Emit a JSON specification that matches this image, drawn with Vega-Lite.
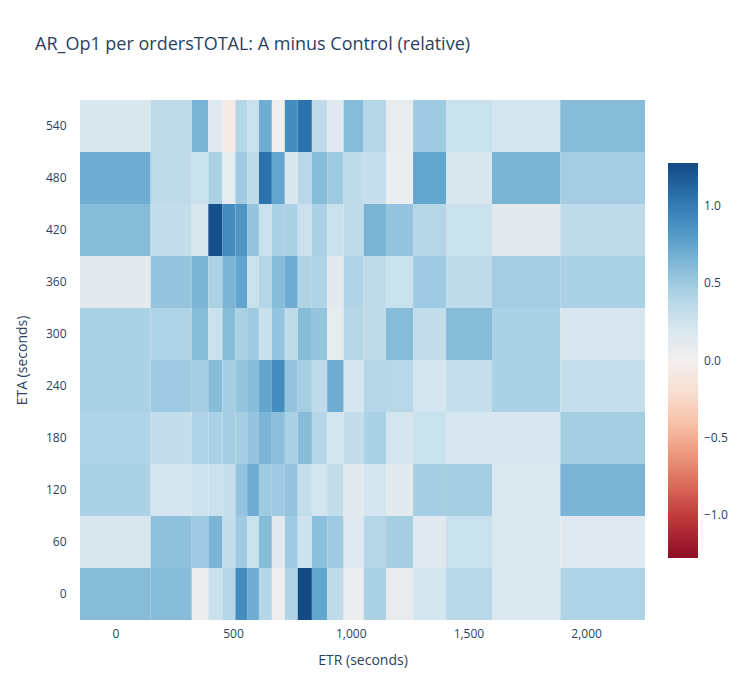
{
  "$schema": "https://vega.github.io/schema/vega-lite/v6.json",
  "autosize": "none",
  "width": 565,
  "height": 520,
  "padding": {"left": 80, "top": 100, "right": 105, "bottom": 80},
  "background": "white",
  "title": {
    "text": "AR_Op1 per ordersTOTAL: A minus Control (relative)",
    "anchor": "start",
    "frame": "group",
    "dx": -45,
    "offset": 46,
    "fontSize": 18,
    "fontWeight": "normal",
    "font": "Open Sans",
    "color": "#2a3f5f"
  },
  "config": {
    "view": {"stroke": null},
    "font": "Open Sans"
  },
  "data": {
    "values": [
      {"eta": 540, "v": [0.2, 0.35, 0.65, 0.15, -0.05, 0.4, 0.3, 0.7, 0.02, 0.9, 1.05, 0.35, 0.15, 0.6, 0.4, 0.08, 0.5, 0.3, 0.25, 0.6]},
      {"eta": 480, "v": [0.7, 0.35, 0.3, 0.45, 0.1, 0.5, 0.35, 1.05, 0.75, 0.2, 0.38, 0.6, 0.5, 0.35, 0.32, 0.05, 0.75, 0.2, 0.65, 0.48]},
      {"eta": 420, "v": [0.6, 0.33, 0.2, 1.25, 0.9, 0.85, 0.55, 0.3, 0.45, 0.45, 0.3, 0.45, 0.3, 0.35, 0.65, 0.55, 0.4, 0.3, 0.12, 0.35]},
      {"eta": 360, "v": [0.12, 0.55, 0.65, 0.45, 0.65, 0.75, 0.3, 0.4, 0.6, 0.7, 0.42, 0.42, 0.12, 0.42, 0.35, 0.3, 0.5, 0.35, 0.48, 0.45]},
      {"eta": 300, "v": [0.45, 0.42, 0.6, 0.3, 0.6, 0.45, 0.5, 0.3, 0.55, 0.35, 0.6, 0.55, 0.1, 0.4, 0.35, 0.6, 0.33, 0.6, 0.45, 0.22]},
      {"eta": 240, "v": [0.45, 0.5, 0.47, 0.6, 0.47, 0.55, 0.6, 0.75, 0.9, 0.55, 0.47, 0.35, 0.7, 0.25, 0.4, 0.38, 0.25, 0.32, 0.45, 0.32]},
      {"eta": 180, "v": [0.42, 0.33, 0.42, 0.45, 0.47, 0.47, 0.55, 0.65, 0.58, 0.45, 0.6, 0.4, 0.25, 0.33, 0.45, 0.25, 0.3, 0.22, 0.22, 0.47]},
      {"eta": 120, "v": [0.45, 0.25, 0.28, 0.3, 0.32, 0.55, 0.7, 0.5, 0.5, 0.55, 0.33, 0.25, 0.33, 0.12, 0.25, 0.12, 0.47, 0.47, 0.18, 0.65]},
      {"eta": 60, "v": [0.2, 0.57, 0.5, 0.65, 0.33, 0.5, 0.3, 0.6, 0.12, 0.5, 0.28, 0.58, 0.5, 0.15, 0.4, 0.47, 0.15, 0.3, 0.18, 0.15]},
      {"eta": 0, "v": [0.6, 0.6, 0.05, 0.3, 0.4, 0.9, 0.7, 0.4, 0.03, 0.42, 1.28, 0.75, 0.35, 0.05, 0.45, 0.07, 0.25, 0.38, 0.18, 0.42]}
    ]
  },
  "transform": [
    {"lookup": "eta", "from": {"data": {"values": [
      {"eta": 0}, {"eta": 60}, {"eta": 120}, {"eta": 180}, {"eta": 240},
      {"eta": 300}, {"eta": 360}, {"eta": 420}, {"eta": 480}, {"eta": 540}
    ]}, "key": "eta"}},
    {"calculate": "[-150,150,325,395,455,510,560,610,665,720,775,835,900,970,1055,1150,1265,1405,1600,1890]", "as": "x0"},
    {"calculate": "[150,325,395,455,510,560,610,665,720,775,835,900,970,1055,1150,1265,1405,1600,1890,2250]", "as": "x1"},
    {"flatten": ["x0", "x1", "v"]}
  ],
  "mark": {"type": "rect", "strokeWidth": 0},
  "encoding": {
    "x": {
      "field": "x0",
      "type": "quantitative",
      "scale": {"domain": [-150, 2250], "nice": false, "zero": false},
      "axis": {
        "values": [0, 500, 1000, 1500, 2000],
        "title": "ETR (seconds)",
        "domain": false, "ticks": false, "grid": false,
        "labelFontSize": 12, "labelColor": "#2a3f5f", "labelPadding": 8,
        "titleFontSize": 14, "titleFontWeight": "normal", "titleColor": "#2a3f5f", "titlePadding": 14
      }
    },
    "x2": {"field": "x1"},
    "y": {
      "field": "eta",
      "type": "ordinal",
      "sort": "descending",
      "scale": {"paddingInner": 0, "paddingOuter": 0},
      "axis": {
        "title": "ETA (seconds)",
        "domain": false, "ticks": false, "grid": false,
        "labelFontSize": 12, "labelColor": "#2a3f5f", "labelPadding": 14,
        "titleFontSize": 14, "titleFontWeight": "normal", "titleColor": "#2a3f5f", "titlePadding": 16
      }
    },
    "color": {
      "field": "v",
      "type": "quantitative",
      "scale": {"scheme": "redblue", "domain": [-1.28, 1.28], "domainMid": 0},
      "legend": {
        "title": null,
        "orient": "none",
        "legendX": 588,
        "legendY": 63,
        "gradientLength": 395,
        "gradientThickness": 30,
        "gradientStrokeWidth": 0,
        "values": [-1, -0.5, 0, 0.5, 1],
        "labelFontSize": 12,
        "labelColor": "#2a3f5f",
        "labelOffset": 6
      }
    }
  }
}
